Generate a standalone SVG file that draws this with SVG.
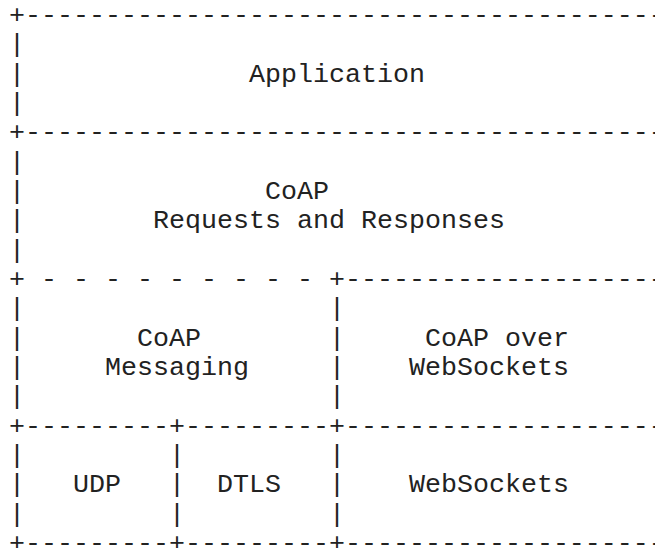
<svg xmlns="http://www.w3.org/2000/svg" width="655" height="548" viewBox="0 0 655 548">
<style>
text{font-family:"Liberation Mono","Courier New",monospace;font-size:26.667px;fill:#222;white-space:pre}
</style>
<rect width="655" height="548" fill="#fff"/>
<g id="connectors">
<text x="9" y="23" xml:space="preserve">+-----------------------------------------</text>
<text x="9" y="140.33" xml:space="preserve">+-----------------------------------------</text>
<text x="9" y="287" xml:space="preserve">+ - - - - - - - - - +---------------------</text>
<text x="9" y="433.67" xml:space="preserve">+---------+---------+---------------------</text>
<text x="9" y="551" xml:space="preserve">+---------+---------+---------------------</text>
<text x="9" y="52.33">|</text>
<text x="9" y="81.67">|</text>
<text x="9" y="111">|</text>
<text x="9" y="169.67">|</text>
<text x="9" y="199">|</text>
<text x="9" y="228.33">|</text>
<text x="9" y="257.67">|</text>
<text x="9" y="316.33">|</text>
<text x="9" y="345.67">|</text>
<text x="9" y="375">|</text>
<text x="9" y="404.33">|</text>
<text x="329" y="316.33">|</text>
<text x="329" y="345.67">|</text>
<text x="329" y="375">|</text>
<text x="329" y="404.33">|</text>
<text x="9" y="463">|</text>
<text x="9" y="492.33">|</text>
<text x="9" y="521.67">|</text>
<text x="169" y="463">|</text>
<text x="169" y="492.33">|</text>
<text x="169" y="521.67">|</text>
<text x="329" y="463">|</text>
<text x="329" y="492.33">|</text>
<text x="329" y="521.67">|</text>
</g>
<g id="application"><text x="249" y="81.67">Application</text></g>
<g id="coap-requests-responses">
<text x="265" y="199">CoAP</text>
<text x="153" y="228.33">Requests and Responses</text>
</g>
<g id="coap-messaging">
<text x="137" y="345.67">CoAP</text>
<text x="105" y="375">Messaging</text>
</g>
<g id="coap-over-websockets">
<text x="425" y="345.67">CoAP over</text>
<text x="409" y="375">WebSockets</text>
</g>
<g id="udp"><text x="73" y="492.33">UDP</text></g>
<g id="dtls"><text x="217" y="492.33">DTLS</text></g>
<g id="websockets"><text x="409" y="492.33">WebSockets</text></g>
</svg>
